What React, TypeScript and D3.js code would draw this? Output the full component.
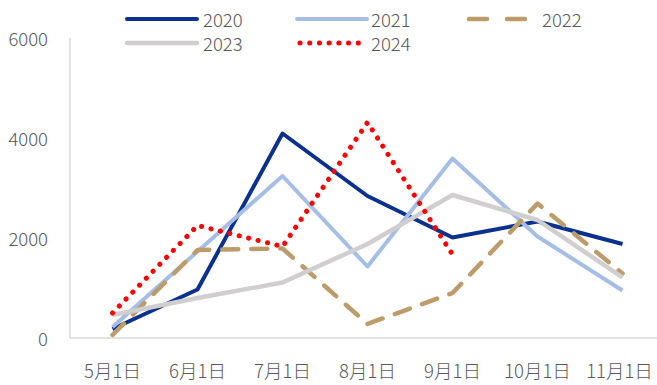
import React from "react";
import * as d3 from "d3";

const categories = ["5月1日", "6月1日", "7月1日", "8月1日", "9月1日", "10月1日", "11月1日"];
const s2020 = [180, 970, 4090, 2840, 2010, 2330, 1880];
const s2021 = [220, 1730, 3240, 1430, 3590, 2030, 950];
const s2022 = [60, 1760, 1790, 280, 900, 2690, 1290];
const s2023 = [460, 800, 1110, 1880, 2860, 2360, 1210];
const s2024 = [500, 2250, 1830, 4310, 1670];
const yTicks = [0, 2000, 4000, 6000];

const series = [
  { name: "2020", values: s2020, color: "#0B318F", width: 4, dash: "", cap: "butt" },
  { name: "2021", values: s2021, color: "#A6BEE6", width: 4, dash: "", cap: "butt" },
  { name: "2022", values: s2022, color: "#BC9C6A", width: 4.5, dash: "16 13", cap: "round" },
  { name: "2023", values: s2023, color: "#D0CECE", width: 4.5, dash: "", cap: "butt" },
  { name: "2024", values: s2024, color: "#FF0000", width: 5, dash: "0.1 9.6", cap: "round" },
];

const W = 657;
const H = 385;
const FONT = "'Noto Sans CJK SC', 'Noto Sans', sans-serif";

export default function App() {
  const x = d3.scaleBand<string>().domain(categories).range([70, 665]).padding(0);
  const y = d3.scaleLinear().domain([0, 6000]).range([338, 38]);
  const cx = (c: string) => (x(c) as number) + x.bandwidth() / 2;
  const line = d3
    .line<number>()
    .x((_, i) => cx(categories[i]))
    .y((d) => y(d));

  const legendPos = [
    { lx: 127, ly: 19 },
    { lx: 297, ly: 19 },
    { lx: 466, ly: 19 },
    { lx: 127, ly: 43 },
    { lx: 297, ly: 43 },
  ];
  const textOffset = [76, 74, 76, 76, 74];

  return (
    <svg width={W} height={H} style={{ position: "absolute", left: 0, top: 0, background: "#fff" }}>
      <rect width={W} height={H} fill="#fff" />
      <line x1={70} x2={70} y1={y(6000)} y2={y(0)} stroke="#D9D9D9" strokeWidth={1.5} />
      <line x1={70} x2={W} y1={y(0)} y2={y(0)} stroke="#D9D9D9" strokeWidth={1.5} />
      {yTicks.map((t) => (
        <text
          key={t}
          x={48}
          y={y(t)}
          textAnchor="end"
          dominantBaseline="central"
          fontFamily={FONT}
          fontSize={18.5}
          fontWeight={300}
          fill="#595959"
        >
          {t}
        </text>
      ))}
      {categories.map((c, i) => (
        <text
          key={c}
          x={cx(c) - (i === categories.length - 1 ? 3 : 0)}
          y={370}
          textAnchor="middle"
          dominantBaseline="central"
          fontFamily={FONT}
          fontSize={18.5}
          fontWeight={300}
          fill="#595959"
        >
          {c}
        </text>
      ))}
      {series.map((s) => (
        <path
          key={s.name}
          d={line(s.values) || ""}
          fill="none"
          stroke={s.color}
          strokeWidth={s.width}
          strokeDasharray={s.dash || undefined}
          strokeLinecap={s.cap as any}
          strokeLinejoin="round"
        />
      ))}
      {series.map((s, i) => {
        const p = legendPos[i];
        return (
          <g key={s.name}>
            <line
              x1={p.lx + (s.cap === "round" ? 3 : 0)}
              x2={p.lx + 70 - (s.cap === "round" ? 3 : 0)}
              y1={p.ly}
              y2={p.ly}
              stroke={s.color}
              strokeWidth={s.width}
              strokeDasharray={s.name === "2022" ? "18 20" : s.dash || undefined}
              strokeLinecap={(s.cap === "round" || s.dash === "" ? "round" : "butt") as any}
            />
            <text
              x={p.lx + textOffset[i]}
              y={p.ly}
              dominantBaseline="central"
              fontFamily={FONT}
              fontSize={18.5}
              fontWeight={300}
              fill="#595959"
            >
              {s.name}
            </text>
          </g>
        );
      })}
    </svg>
  );
}
